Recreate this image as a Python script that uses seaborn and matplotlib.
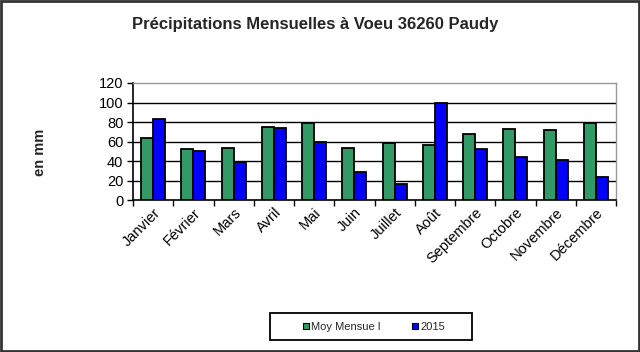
import matplotlib
matplotlib.use("Agg")
import matplotlib.pyplot as plt
import seaborn as sns
import pandas as pd
from matplotlib.patches import Rectangle
from matplotlib.lines import Line2D

months = ["Janvier", "Février", "Mars", "Avril", "Mai", "Juin", "Juillet",
          "Août", "Septembre", "Octobre", "Novembre", "Décembre"]
moy_mensuel = [64, 52, 53.5, 75, 78.5, 53.5, 58.5, 56, 67.5, 73, 72, 79]
pluie_2015 = [83, 50.5, 39, 73.5, 59.5, 29, 16, 99, 52, 44, 41, 24]
series_names = ["Moy Mensue l", "2015"]
yticks = [0, 20, 40, 60, 80, 100, 120]

df = pd.DataFrame({
    "Mois": months * 2,
    "Valeur": moy_mensuel + pluie_2015,
    "Serie": [series_names[0]] * 12 + [series_names[1]] * 12,
})

sns.set_theme(style="white")
plt.rcParams["font.family"] = ["Liberation Sans", "DejaVu Sans"]

fig = plt.figure(figsize=(6.4, 3.52), dpi=100)
ax = fig.add_axes([133 / 640, 1 - 200 / 352, (616 - 133) / 640, (200 - 83) / 352])

palette = {series_names[0]: "#339966", series_names[1]: "#0000FF"}
sns.barplot(data=df, x="Mois", y="Valeur", hue="Serie", palette=palette,
            width=0.6, edgecolor="black", linewidth=1.3, saturation=1,
            ax=ax, legend=False, zorder=3)

ax.set_ylim(0, 120)
ax.set_xlim(-0.5, 11.5)
ax.set_yticks(yticks)
ax.set_yticklabels([str(v) for v in yticks], fontsize=10.5, color="black")
for v in yticks[1:-1]:
    ax.axhline(v, color="black", linewidth=1.0, zorder=1)
ax.set_xticks(range(12))
ax.set_xticklabels(months, rotation=45, ha="right", rotation_mode="anchor",
                   fontsize=10.5, color="black")
ax.tick_params(axis="x", length=0, pad=4)
ax.tick_params(axis="y", length=4, width=1, color="black", left=True, pad=3)
ax.set_xticks([i + 0.5 for i in range(-1, 12)], minor=True)
ax.tick_params(axis="x", which="minor", length=4, width=1, color="black", bottom=True)
ax.set_xlabel("")
ax.set_ylabel("")

for side in ["top", "right"]:
    ax.spines[side].set_color("#999999")
    ax.spines[side].set_linewidth(1.0)
for side in ["left", "bottom"]:
    ax.spines[side].set_color("black")
    ax.spines[side].set_linewidth(1.2)

fig.text(315 / 640, 1 - 25 / 352, "Précipitations Mensuelles à Voeu 36260 Paudy",
         ha="center", va="center", fontsize=12, fontweight="bold")
fig.text(40 / 640, 1 - 152 / 352, "en mm", rotation=90, ha="center", va="center",
         fontsize=10.5, fontweight="bold")

# legend box
fig.patches.append(Rectangle((270 / 640, 1 - 340 / 352), 202 / 640, 27 / 352,
                             transform=fig.transFigure, fill=False,
                             edgecolor="black", linewidth=1.3))
handles = [Line2D([], [], marker="s", linestyle="", markersize=4,
                  markerfacecolor=palette[n], markeredgecolor="black", markeredgewidth=0.8)
           for n in series_names]
fig.legend(handles, series_names, loc="center", ncol=2,
           bbox_to_anchor=(374 / 640, 1 - 327 / 352), fontsize=8,
           frameon=False, handlelength=0.6, handletextpad=0.2, columnspacing=2.8)

# outer border
fig.patches.append(Rectangle((0.002, 0.003), 0.996, 0.994, transform=fig.transFigure,
                             fill=False, edgecolor="#333333", linewidth=2))

fig.savefig("out.png", dpi=100)
